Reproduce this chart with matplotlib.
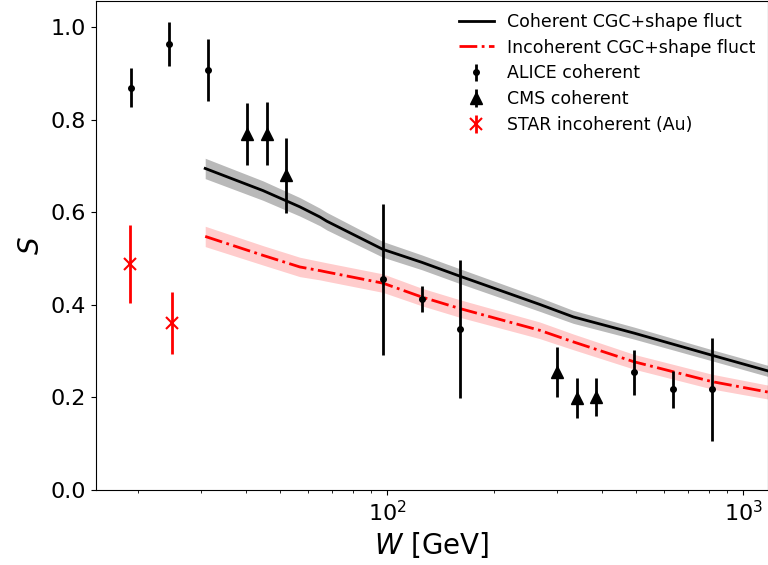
import numpy as np
import matplotlib
matplotlib.use("Agg")
import matplotlib.pyplot as plt

# model curves (W in GeV)
w_model = [30.8, 44.8, 56.8, 64.7, 67.6, 97.2, 125, 160, 268, 333, 493, 817, 1200]
coh_model = [0.695, 0.647, 0.612, 0.590, 0.581, 0.520, 0.492, 0.462, 0.401, 0.374, 0.339, 0.291, 0.255]
coh_err = [0.022, 0.021, 0.020, 0.019, 0.019, 0.017, 0.016, 0.016, 0.015, 0.014, 0.013, 0.012, 0.012]
inc_model = [0.548, 0.507, 0.482, 0.474, 0.471, 0.447, 0.417, 0.392, 0.345, 0.320, 0.277, 0.234, 0.210]
inc_err = [0.022, 0.021, 0.021, 0.020, 0.020, 0.020, 0.019, 0.019, 0.018, 0.017, 0.016, 0.016, 0.015]

# ALICE coherent
alice_w = [19.0, 24.4, 31.3, 97.1, 124.9, 160, 494, 635, 815]
alice_s = [0.870, 0.964, 0.907, 0.455, 0.412, 0.347, 0.254, 0.217, 0.217]
alice_err = [0.043, 0.048, 0.067, 0.163, 0.028, 0.149, 0.049, 0.041, 0.112]

# CMS coherent
cms_w = [40.4, 45.8, 51.9, 300, 340, 385]
cms_s = [0.770, 0.770, 0.680, 0.255, 0.198, 0.200]
cms_err = [0.067, 0.068, 0.081, 0.054, 0.043, 0.041]

# STAR incoherent (Au)
star_w = [18.9, 24.9]
star_s = [0.489, 0.360]
star_err = [0.084, 0.067]

fig = plt.figure(figsize=(7.68, 5.65), dpi=100)
ax = fig.add_axes([0.125, 0.133, 0.875, 0.866])

coh_model = np.array(coh_model)
inc_model = np.array(inc_model)
ax.plot(w_model, coh_model, color="black", lw=2, label="Coherent CGC+shape fluct")
ax.fill_between(w_model, coh_model - np.array(coh_err), coh_model + np.array(coh_err),
                color="gray", alpha=0.55, lw=0)
ax.plot(w_model, inc_model, color="red", lw=2, ls="-.", label="Incoherent CGC+shape fluct")
ax.fill_between(w_model, inc_model - np.array(inc_err), inc_model + np.array(inc_err),
                color="red", alpha=0.2, lw=0)

ax.errorbar(alice_w, alice_s, yerr=alice_err, fmt="o", color="black", ms=4,
            elinewidth=2, label="ALICE coherent")
ax.errorbar(cms_w, cms_s, yerr=cms_err, fmt="^", color="black", ms=9,
            elinewidth=2, label="CMS coherent")
ax.errorbar(star_w, star_s, yerr=star_err, fmt="x", color="red", ms=8, mew=1.5,
            elinewidth=2, label="STAR incoherent (Au)")

ax.set_xscale("log")
ax.set_xlim(15.2, 1173)
ax.set_ylim(0, 1.058)
ax.set_yticks([0.0, 0.2, 0.4, 0.6, 0.8, 1.0])
ax.tick_params(labelsize=16)
ax.set_xlabel("$W$ [GeV]", fontsize=20)
ax.set_ylabel("$S$", fontsize=20)
ax.legend(loc="upper right", frameon=False, fontsize=12.5, handlelength=2,
          borderaxespad=0.3, labelspacing=0.45)

fig.savefig("out.png", dpi=100)
